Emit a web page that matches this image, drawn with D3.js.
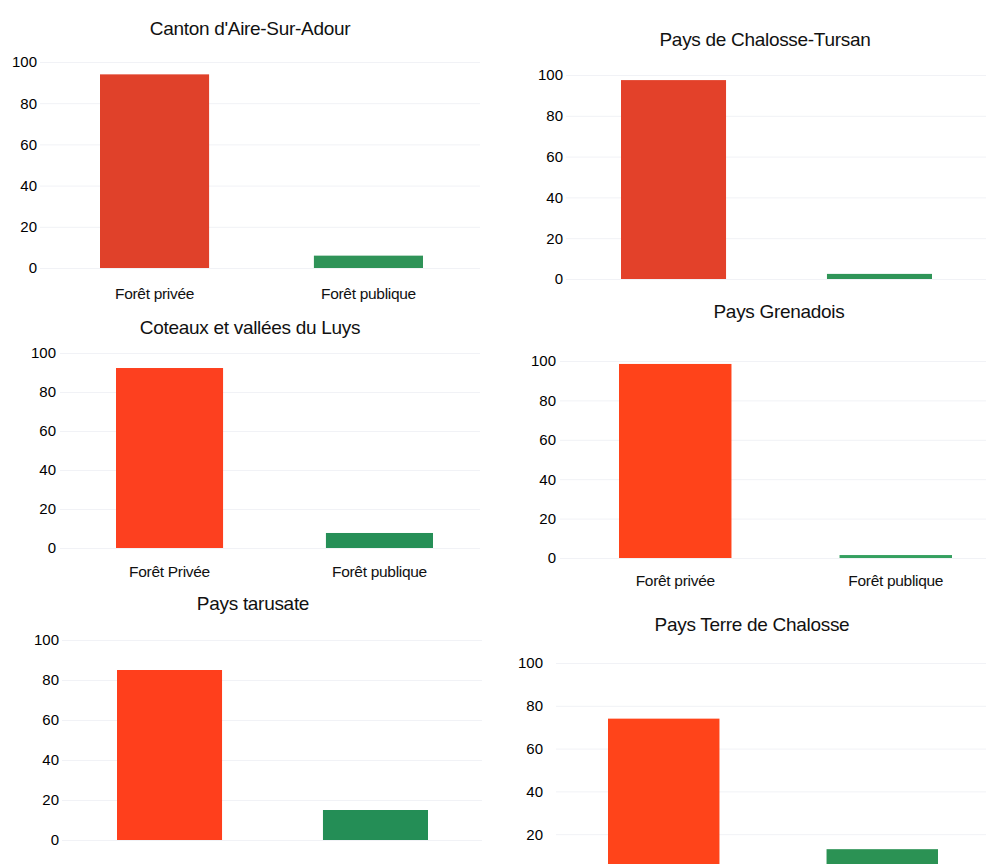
<!DOCTYPE html>
<html>
<head>
<meta charset="utf-8">
<script src="https://cdn.jsdelivr.net/npm/d3@7"></script>
<style>
  body { margin: 0; background: #fff; }
  svg { display: block; font-family: "Liberation Sans", Arial, sans-serif; }
</style>
</head>
<body>
<svg id="chart" width="986" height="864"></svg>
<script>
// data
const titles = [
  "Canton d'Aire-Sur-Adour",
  "Pays de Chalosse-Tursan",
  "Coteaux et vallées du Luys",
  "Pays Grenadois",
  "Pays tarusate",
  "Pays Terre de Chalosse"
];
const categories = ["Forêt privée", "Forêt publique"];
const categoriesLuys = ["Forêt Privée", "Forêt publique"];
const foretPrivee = [94, 97.5, 92.3, 98.5, 85, 74];
const foretPublique = [6, 2.5, 7.7, 1.5, 15, 13];
const yTicks = [0, 20, 40, 60, 80, 100];

// layout of each panel on the page (scan is a bit crooked, so these vary)
const panels = [
  { tx: 250, ty: 35, xl: 100, xr: 423, y0: 268, y100: 62, lab: 37, gx: 40, gw: 440, xlab: 299, cats: categories, red: "#e0412a", green: "#2f9358" },
  { tx: 765, ty: 46, xl: 621, xr: 932, y0: 279, y100: 75, lab: 563, gx: 566, gw: 420, xlab: null, cats: categories, red: "#e3412a", green: "#2f9558" },
  { tx: 250, ty: 334, xl: 116, xr: 433, y0: 548, y100: 353, lab: 56, gx: 60, gw: 420, xlab: 577, cats: categoriesLuys, red: "#fd401f", green: "#268f57" },
  { tx: 779, ty: 318, xl: 619, xr: 952, y0: 558, y100: 361, lab: 556, gx: 560, gw: 426, xlab: 586, cats: categories, red: "#ff431a", green: "#35a060" },
  { tx: 253, ty: 610, xl: 117, xr: 428, y0: 840, y100: 640, lab: 59, gx: 62, gw: 420, xlab: null, cats: categories, red: "#ff3f1c", green: "#248e56" },
  { tx: 752, ty: 631, xl: 608, xr: 938, y0: 877, y100: 663, lab: 543, gx: 556, gw: 430, xlab: null, cats: categories, red: "#ff441a", green: "#2b9254" }
];

const svg = d3.select('#chart');

panels.forEach((p, i) => {
  const vals = [foretPrivee[i], foretPublique[i]];
  const g = svg.append('g').attr('class', 'panel');

  let y = d3.scaleLinear().domain([0, 100]).range([p.y0, p.y100]);
  let x = d3.scaleBand().domain(p.cats).range([p.xl, p.xr]).paddingInner(0.49);
  let shown = yTicks.filter(t => y(t) < 864);

  // faint grid, barely survives the scan
  g.append('g')
    .attr('transform', `translate(${p.gx},0)`)
    .call(d3.axisLeft(y).tickValues(shown).tickSize(-p.gw).tickFormat(''))
    .call(a => a.select('.domain').remove())
    .call(a => a.selectAll('line').attr('stroke', '#f1f2f6').attr('stroke-width', 1));

  // y labels
  g.append('g')
    .attr('transform', `translate(${p.lab},0)`)
    .call(d3.axisLeft(y).tickValues(shown).tickSize(0).tickPadding(0))
    .call(a => a.select('.domain').remove())
    .call(a => a.selectAll('text')
      .attr('font-size', 15)
      .attr('fill', '#000')
      .attr('font-family', '"Liberation Sans", Arial, sans-serif'));

  g.selectAll('rect.bar')
    .data(vals)
    .join('rect')
    .attr('class', 'bar')
    .attr('x', (d, j) => x(p.cats[j]))
    .attr('width', x.bandwidth())
    .attr('y', d => y(d))
    .attr('height', d => y(0) - y(d))
    .attr('fill', (d, j) => j === 0 ? p.red : p.green);

  g.append('text')
    .attr('x', p.tx)
    .attr('y', p.ty)
    .attr('text-anchor', 'middle')
    .attr('font-size', 19)
    .attr('letter-spacing', -0.3)
    .attr('fill', '#111')
    .text(titles[i]);

  if (p.xlab) {
    g.selectAll('text.xl')
      .data(p.cats)
      .join('text')
      .attr('class', 'xl')
      .attr('x', d => x(d) + x.bandwidth() / 2)
      .attr('y', p.xlab)
      .attr('text-anchor', 'middle')
      .attr('font-size', 15.5)
      .attr('letter-spacing', -0.3)
      .attr('fill', '#111')
      .text(d => d);
  }
});
</script>
</body>
</html>
